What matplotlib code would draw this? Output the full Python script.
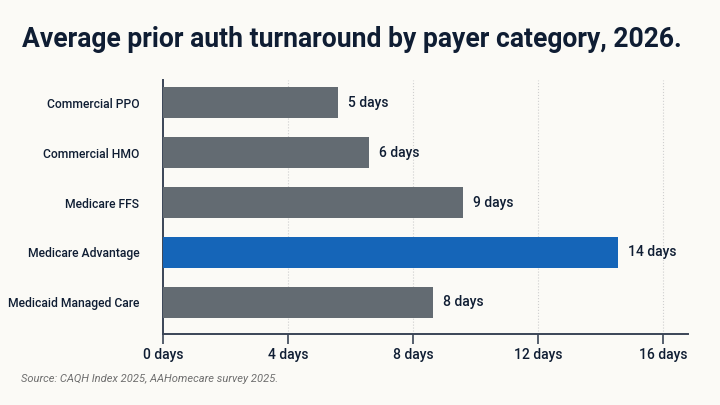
import matplotlib.pyplot as plt

# Payer categories, top to bottom
categories = ['Commercial PPO', 'Commercial HMO', 'Medicare FFS',
              'Medicare Advantage', 'Medicaid Managed Care']
# Bar lengths as drawn (days)
turnaround = [5.6, 6.6, 9.6, 14.55, 8.65]
value_labels = ['5 days', '6 days', '9 days', '14 days', '8 days']
highlight = 'Medicare Advantage'

xticks = [0, 4, 8, 12, 16]
xtick_labels = ['0 days', '4 days', '8 days', '12 days', '16 days']

bg = '#fbfaf6'
navy = '#0f1d33'
gray_bar = '#636b72'
blue_bar = '#1565b8'
font = ['Roboto', 'DejaVu Sans']

fig = plt.figure(figsize=(7.2, 4.05), dpi=100, facecolor=bg)
ax = fig.add_axes([0.2264, 0.1753, 0.7292, 0.6272], facecolor=bg)

colors = [blue_bar if c == highlight else gray_bar for c in categories]
ypos = list(range(len(categories)))
ax.barh(ypos, turnaround, height=0.62, color=colors, zorder=3)

for y, v, lab in zip(ypos, turnaround, value_labels):
    ax.text(v + 0.32, y, lab, va='center', ha='left', fontsize=10,
            color=navy, family=font, fontweight='medium')

ax.set_ylim(4.64, -0.46)
ax.set_xlim(0, 16.8)
ax.set_yticks(ypos)
ax.set_yticklabels(categories, fontsize=8.7, color=navy, family=font,
                   fontweight='medium')
ax.tick_params(axis='y', length=0, pad=17)

ax.set_xticks(xticks)
ax.set_xticklabels(xtick_labels, fontsize=10, color=navy, family=font,
                   fontweight='medium')
ax.tick_params(axis='x', length=7, width=1.2, color='#3a4556', pad=3)

for x in xticks[1:]:
    ax.axvline(x, color='#cfcfcf', lw=0.8, ls=':', zorder=1)

for s in ['top', 'right']:
    ax.spines[s].set_visible(False)
for s in ['left', 'bottom']:
    ax.spines[s].set_color('#3a4556')
    ax.spines[s].set_linewidth(1.4)

fig.text(0.03, 1 - 47 / 405, 'Average prior auth turnaround by payer category, 2026.',
         fontsize=19.1, fontweight='bold', color=navy, family=font,
         ha='left', va='baseline')
fig.text(0.029, 1 - 379 / 405, 'Source: CAQH Index 2025, AAHomecare survey 2025.',
         fontsize=8.0, style='italic', color='#6e6e6e', family=font,
         ha='left', va='center')

fig.savefig('out.png', dpi=100, facecolor=bg)
